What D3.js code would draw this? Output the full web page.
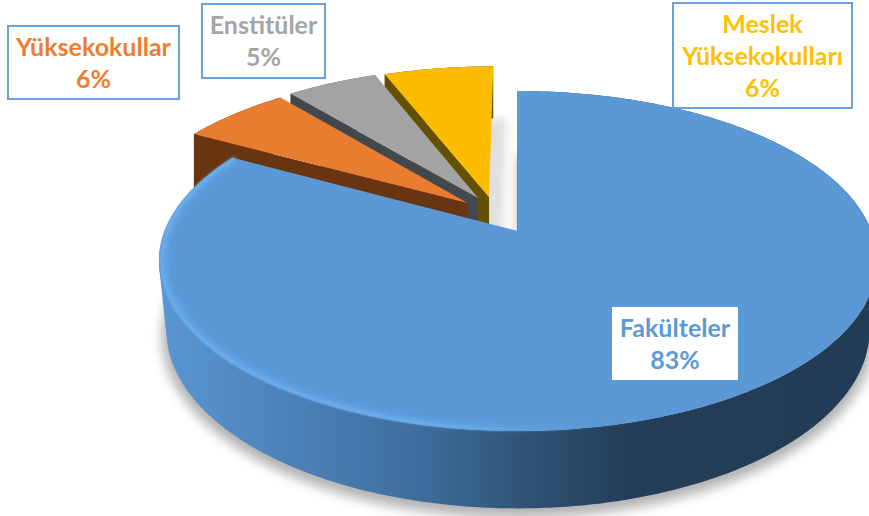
<!DOCTYPE html>
<html><head><meta charset="utf-8">
<style>html,body{margin:0;padding:0;background:#fff}svg{display:block}text{font-family:Lato,"Open Sans",sans-serif;font-weight:700;font-size:25px;text-anchor:middle}</style>
<script src="https://cdn.jsdelivr.net/npm/d3@7/dist/d3.min.js"></script>
</head><body>
<svg id="c" width="869" height="516"></svg>
<script>
const categories = ["Fakülteler","Yüksekokullar","Enstitüler","Meslek Yüksekokulları"];
const values = [83,6,5,6];
const labelLines = [["Fakülteler","83%"],["Yüksekokullar","6%"],["Enstitüler","5%"],["Meslek","Yüksekokulları","6%"]];
const topColors = ["#5b98d6","#ea7c30","#a3a3a3","#fcbc00"];
const edgeColors = ["#2a4a6b","#693410","#43484d","#635000"];
const textColors = ["#5b9bd5","#ed7d31","#a5a5a5","#ffc000"];
// exploded offsets of the slices on the pie plane (unit = radius)
const offsetU = [0,-0.147,-0.117,-0.085];
const offsetV = [0,-0.175,-0.207,-0.214];
// label boxes [x, y, w, h]
const boxes = [[612,307,126,73],[8,26,171,73],[202,4,123,74],[673,3,179,105]];
const boxStroke = [false,true,true,true];

const cx=518, cy=231, R=353.4, K=164.7, P=0.1765, D=63.4, D0=68, inset0=0.98;
const proj=(u,v,depth)=>{const w=1-P*v;return [cx+R*u/w, cy+K*v/w+(depth||0)/w];};
const svg=d3.select("#c");
const defs=svg.append("defs");
const addBlur=(id,s,x,wd)=>defs.append("filter").attr("id",id).attr("x",x).attr("y","-20%").attr("width",wd).attr("height","140%")
  .append("feGaussianBlur").attr("stdDeviation",s);
addBlur("blur",6,"-20%","140%");
addBlur("blur2",4,"-50%","200%");
addBlur("soft",1,"-5%","110%");
addBlur("soft2",2.2,"-5%","110%");
const grad=(id,stops)=>{const g=defs.append("linearGradient").attr("id",id).attr("gradientUnits","userSpaceOnUse")
  .attr("x1",160).attr("x2",869).attr("y1",0).attr("y2",0);
  stops.forEach(s=>g.append("stop").attr("offset",s[0]).attr("stop-color",s[1]).attr("stop-opacity",s[2]===undefined?1:s[2]));};
grad("side",[[0,"#5a96d2"],[0.2,"#4a80b6"],[0.36,"#3f6e9e"],[0.52,"#2f5273"],[0.66,"#243e59"],[1,"#223c55"]]);
grad("rim",[[0,"#6cb2f2",1],[0.42,"#6cb2f2",0.9],[0.6,"#5f9fdc",0.3],[0.72,"#5b98d6",0]]);

const pie=d3.pie().sort(null).startAngle(0).endAngle(2*Math.PI)(values);
const line=d3.line();
const span=d=>d.endAngle-d.startAngle;
const pts=(d,depth,ins=1)=>{
  const i=d.index, n=Math.ceil(span(d)/0.01);
  return d3.range(n+1).map(k=>{const a=d.startAngle+span(d)*k/n;
    return proj(offsetU[i]+ins*Math.sin(a),offsetV[i]-ins*Math.cos(a),depth);});
};
const apex=(d,depth)=>proj(offsetU[d.index],offsetV[d.index],depth);
const rimAt=(d,depth)=>proj(offsetU[d.index]+Math.sin(d.startAngle),offsetV[d.index]-Math.cos(d.startAngle),depth);
const arcPart=(d,ins,from)=>{const n=Math.ceil(span(d)/0.01);return pts(d,0,ins).filter((p,k)=>d.startAngle+span(d)*k/n>from);};
// the wall between the two rims: one quad per step, all wound the same way so overlaps stay filled
const wall=(top,bot)=>d3.range(top.length-1).map(k=>{
  const q=[top[k],top[k+1],bot[k+1],bot[k]];
  return line(d3.polygonArea(q)<0?q.reverse():q)+"Z";
}).join("");

// ground shadows
svg.append("path").attr("transform","translate(0,6)").attr("filter","url(#blur)").attr("opacity",0.3)
  .attr("d",line([apex(pie[0],D0),...pts(pie[0],D0,inset0+0.012)])+"Z").attr("fill","#000");
svg.append("path").attr("transform","translate(13,0)").attr("filter","url(#blur2)").attr("opacity",0.12)
  .attr("d",line([apex(pie[3],D),...pts(pie[3],D)])+"Z").attr("fill","#000");

// draw far slices first, the large one last
[pie[3],pie[2],pie[1],pie[0]].forEach(d=>{
  const i=d.index, g=svg.append("g").attr("class","slice");
  const dep=i===0?D0:D, ins=i===0?inset0:1;
  const top=pts(d,0), bot=pts(d,dep,ins);
  g.append("path").attr("d",wall(top,bot))
    .attr("fill",i===0?"url(#side)":edgeColors[i]);
  g.append("path").attr("d",line([apex(d,0),rimAt(d,0),rimAt(d,dep),apex(d,dep)])+"Z")
    .attr("fill",edgeColors[i]).attr("stroke",i===0?edgeColors[i]:"none").attr("stroke-width",1.2);
  g.append("path").attr("d",line([apex(d,0),...top])+"Z").attr("fill",topColors[i]);
  if(i===0){
    g.append("path").attr("d",line(arcPart(d,0.985,1.2))).attr("fill","none")
      .attr("stroke","url(#rim)").attr("stroke-width",5).attr("stroke-opacity",0.55).attr("filter","url(#soft2)");
    g.append("path").attr("d",line(arcPart(d,0.993,1.2))).attr("fill","none")
      .attr("stroke","url(#rim)").attr("stroke-width",2.5).attr("filter","url(#soft)");
  }
});

// labels
const dy=32;
labelLines.forEach((ls,i)=>{
  const b=boxes[i];
  svg.append("rect").attr("x",b[0]).attr("y",b[1]).attr("width",b[2]).attr("height",b[3])
    .attr("fill","#fff").attr("stroke",boxStroke[i]?"#66a3dd":"none").attr("stroke-width",2);
  const h=ls.length*dy, mid=b[1]+b[3]/2;
  ls.forEach((t,k)=>{
    svg.append("text").attr("x",b[0]+b[2]/2).attr("y",mid-h/2+k*dy+25).attr("fill",textColors[i]).text(t);
  });
});
</script>
</body></html>
